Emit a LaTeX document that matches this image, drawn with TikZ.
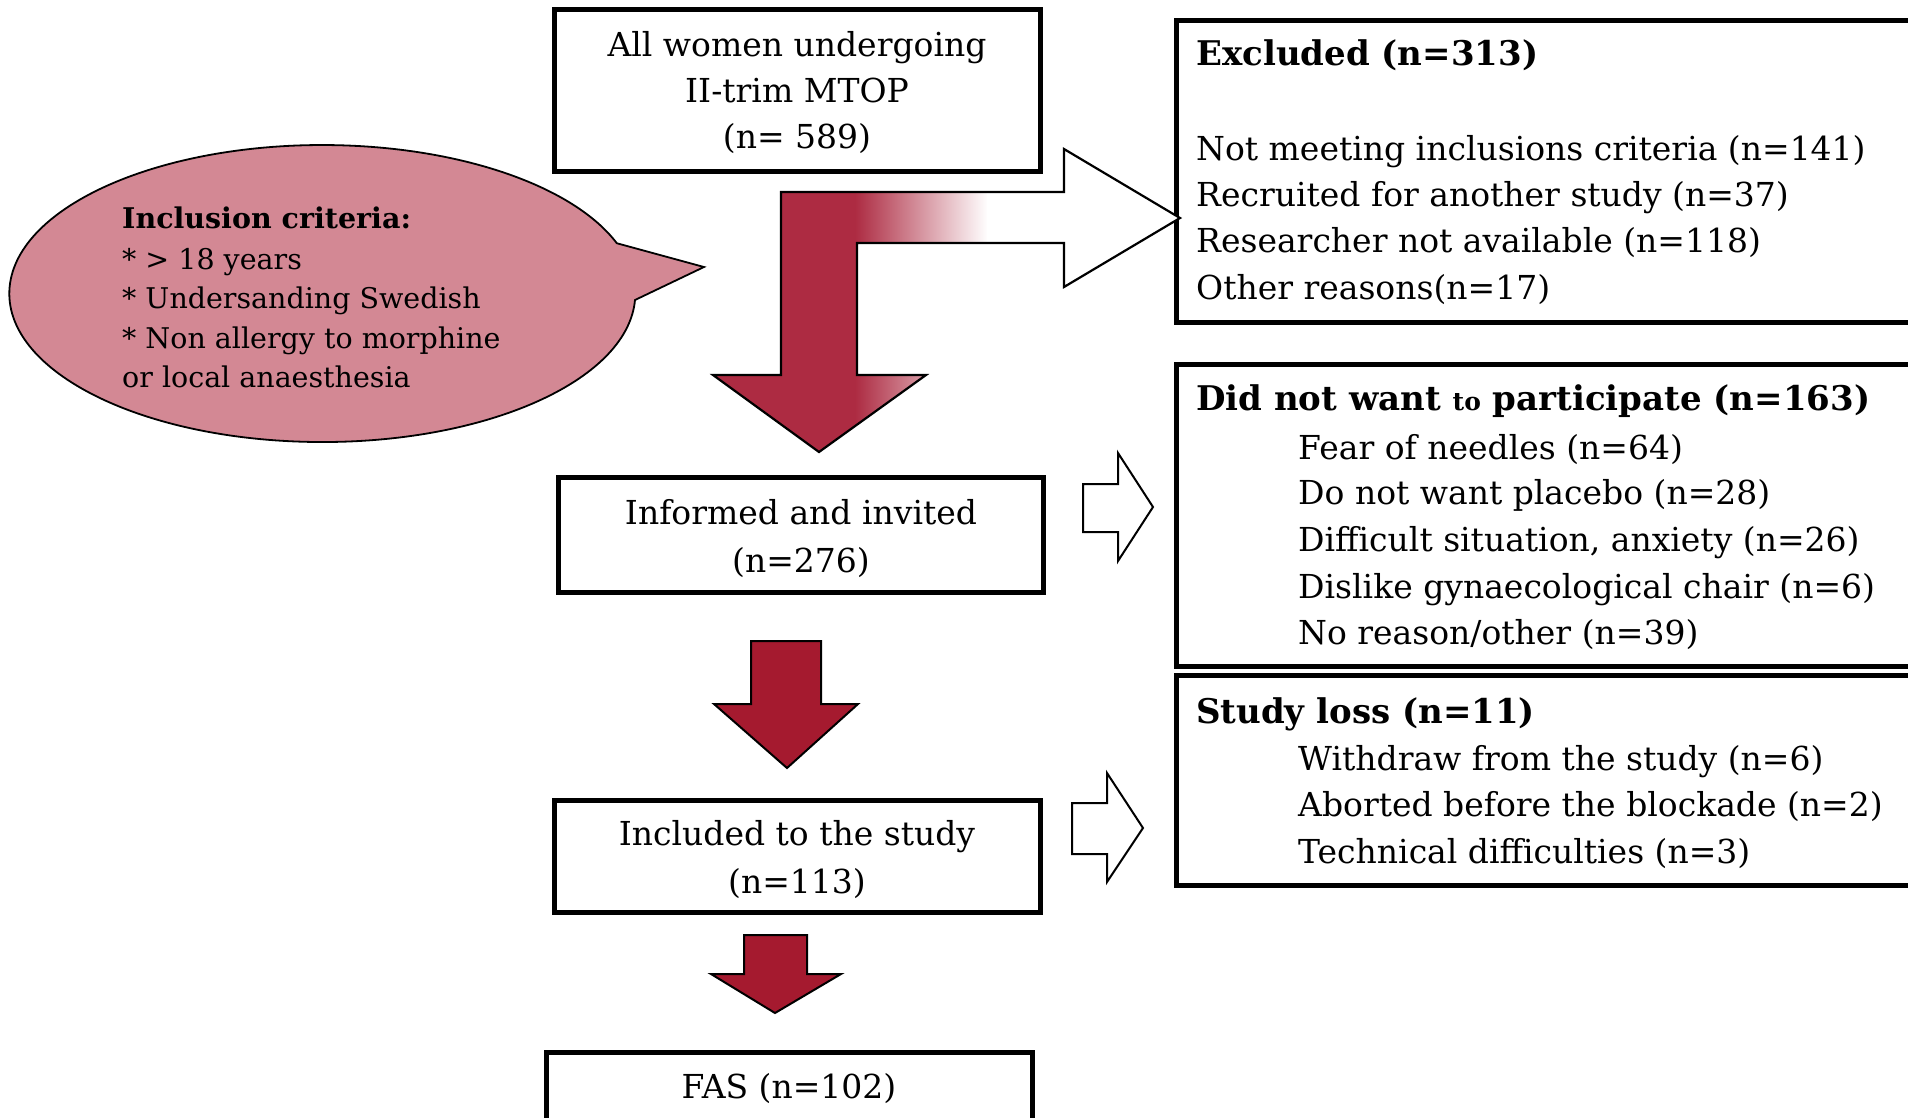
\documentclass[tikz,border=0pt]{standalone}
\usepackage{fontspec}
\setmainfont{DejaVu Serif}
\definecolor{arrowred}{HTML}{AD2B42}
\definecolor{darkred}{HTML}{A51A2F}
\definecolor{pinkfill}{HTML}{D38894}
\tikzset{
  boxnode/.style={draw=black, line width=5pt, fill=white, inner sep=0pt, minimum width=#1},
  txt/.style={font=\fontsize{33}{38}\selectfont, inner sep=0pt, anchor=base},
  ltxt/.style={txt, anchor=base west},
  btxt/.style={font=\fontsize{34}{38}\selectfont\bfseries, inner sep=0pt, anchor=base west},
  etxt/.style={font=\fontsize{28.5}{32}\selectfont, inner sep=0pt, anchor=base west},
  hollow/.style={draw=black, line width=2pt, fill=white, line join=miter},
  solidarrow/.style={draw=black, line width=2pt, fill=darkred, line join=miter},
}
\begin{document}
\begin{tikzpicture}[x=1pt,y=-1pt]
\useasboundingbox (0,0) rectangle (1908,1117);
\clip (0,0) rectangle (1908,1117);

% boxes
\node[boxnode=486, minimum height=162] (top) at (797,90) {};
\node[boxnode=766, minimum height=302, anchor=north west] (excl) at (1174,18) {};
\node[boxnode=766, minimum height=302, anchor=north west] (dnw) at (1174,362) {};
\node[boxnode=766, minimum height=210, anchor=north west] (loss) at (1174,673) {};
\node[boxnode=485, minimum height=115] (inf) at (800.5,534.5) {};
\node[boxnode=486, minimum height=112] (inc) at (797,856) {};
\node[boxnode=486, minimum height=100, anchor=north] (fas) at (789,1050) {};

% callout
\draw[fill=pinkfill, draw=black, line width=1.8pt] (635,300)
  arc[start angle=2.5, end angle=340.2, x radius=313, y radius=148.5]
  -- (704,267) -- cycle;

% bent gradient arrow
\begin{scope}
\clip (781,192) -- (1064,192) -- (1064,149) -- (1180,218) -- (1064,287)
  -- (1064,243) -- (857,243) -- (857,375) -- (926,375) -- (819,452)
  -- (713,375) -- (781,375) -- cycle;
\fill[arrowred] (700,140) rectangle (856,460);
\shade[left color=arrowred, right color=white, shading angle=90] (855,140) rectangle (988,460);
\fill[white] (987,140) rectangle (1190,460);
\end{scope}
\draw[line width=2.2pt, line join=miter] (781,192) -- (1064,192) -- (1064,149) -- (1180,218) -- (1064,287)
  -- (1064,243) -- (857,243) -- (857,375) -- (926,375) -- (819,452)
  -- (713,375) -- (781,375) -- cycle;

% hollow right arrows
\draw[hollow] (1083,484) -- (1118,484) -- (1118,453) -- (1153,507) -- (1118,561) -- (1118,532) -- (1083,532) -- cycle;
\draw[hollow] (1072,803) -- (1107,803) -- (1107,773) -- (1143,828) -- (1107,882) -- (1107,854) -- (1072,854) -- cycle;

% solid down arrows
\draw[solidarrow] (751,641) -- (821,641) -- (821,704) -- (858,704) -- (787,768) -- (714,704) -- (751,704) -- cycle;
\draw[solidarrow] (744,935) -- (807,935) -- (807,974) -- (841,974) -- (775,1013) -- (711,974) -- (744,974) -- cycle;

% top box text
\node[txt] (t1) at (797,56) {All women undergoing};
\node[txt] (t2) at (797,102) {II-trim MTOP};
\node[txt] (t3) at (797,148) {(n= 589)};

% informed
\node[txt] (i1) at (801,524) {Informed and invited};
\node[txt] (i2) at (801,572) {(n=276)};

% included
\node[txt] (c1) at (797,845) {Included to the study};
\node[txt] (c2) at (797,893) {(n=113)};

% FAS
\node[txt] (f1) at (789,1098) {FAS (n=102)};

% excluded
\node[btxt] (e0) at (1196,65) {Excluded (n=313)};
\node[ltxt] (e1) at (1196,160) {Not meeting inclusions criteria (n=141)};
\node[ltxt] (e2) at (1196,206) {Recruited for another study (n=37)};
\node[ltxt] (e3) at (1196,252) {Researcher not available (n=118)};
\node[ltxt] (e4) at (1196,299) {Other reasons(n=17)};

% did not want
\node[btxt] (d0) at (1196,410) {Did not want {\fontsize{25}{28}\selectfont to} participate (n=163)};
\node[ltxt] (d1) at (1298,459) {Fear of needles (n=64)};
\node[ltxt] (d2) at (1298,504) {Do not want placebo (n=28)};
\node[ltxt] (d3) at (1298,551) {Difficult situation, anxiety (n=26)};
\node[ltxt] (d4) at (1298,598) {Dislike gynaecological chair (n=6)};
\node[ltxt] (d5) at (1298,644) {No reason/other (n=39)};

% study loss
\node[btxt] (s0) at (1196,723) {Study loss (n=11)};
\node[ltxt] (s1) at (1298,770) {Withdraw from the study (n=6)};
\node[ltxt] (s2) at (1298,816) {Aborted before the blockade (n=2)};
\node[ltxt] (s3) at (1298,863) {Technical difficulties (n=3)};

% callout text
\node[etxt, font=\fontsize{28.5}{32}\selectfont\bfseries] (p0) at (122,228) {Inclusion criteria:};
\node[etxt] (p1) at (122,269) {* > 18 years};
\node[etxt] (p2) at (122,308) {* Undersanding Swedish};
\node[etxt] (p3) at (122,348) {* Non allergy to morphine};
\node[etxt] (p4) at (122,387) {or local anaesthesia};
\end{tikzpicture}
\end{document}
